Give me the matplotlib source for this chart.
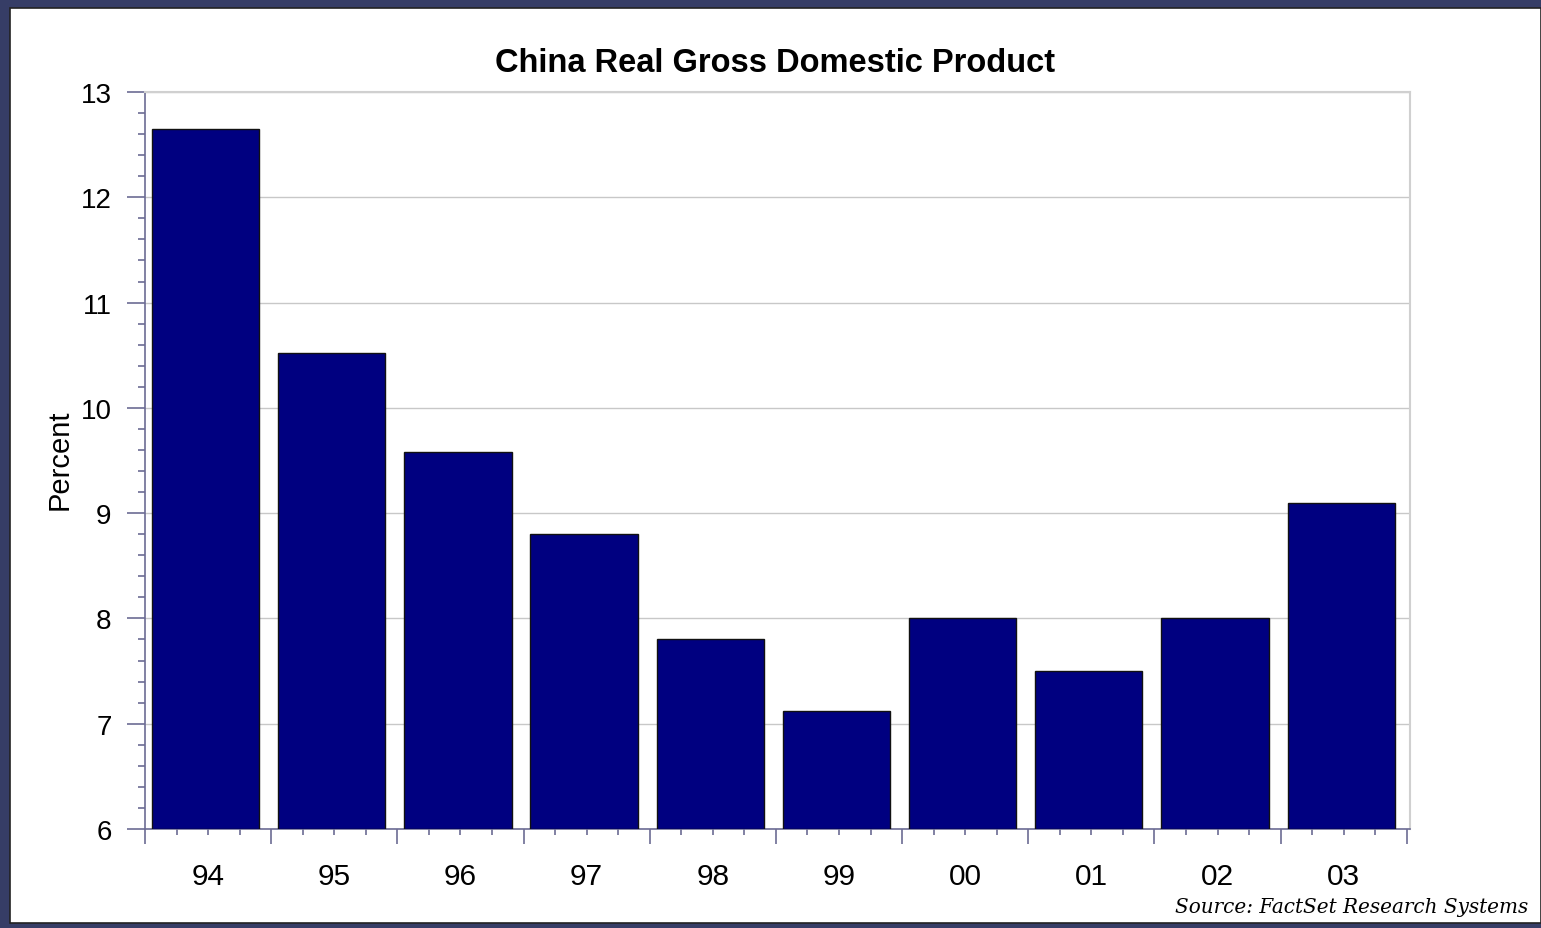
import numpy as np
import matplotlib
matplotlib.use("Agg")
import matplotlib.pyplot as plt
from matplotlib.patches import Rectangle

years = ["94", "95", "96", "97", "98", "99", "00", "01", "02", "03"]
gdp_growth = [12.65, 10.52, 9.58, 8.8, 7.8, 7.12, 8.0, 7.5, 8.0, 9.1]
y_ticks = [6, 7, 8, 9, 10, 11, 12, 13]

W, H = 1541, 929
axis_col = "#6c6c94"
frame_col = "#d0d0d0"

plt.rcParams["font.family"] = ["Liberation Sans", "DejaVu Sans"]

fig = plt.figure(figsize=(W / 100, H / 100), dpi=100)
fig.patch.set_facecolor("#363d66")
# white panel inside the dark border
fig.patches.append(Rectangle((10 / W, 1 - 924 / H), 1 - 10 / W, (924 - 9) / H,
                             transform=fig.transFigure, facecolor="white",
                             edgecolor="#222222", linewidth=1.2, zorder=-5))

ax = fig.add_axes([145 / W, 1 - 830 / H, (1410 - 145) / W, (830 - 93) / H])
ax.set_zorder(2)
ax.set_facecolor("white")
x = np.arange(len(years))
ax.bar(x - 0.02, np.array(gdp_growth) - 6, bottom=6, width=0.85, color="#000080",
       edgecolor="#111111", linewidth=1.0, zorder=3)

ax.set_xlim(-0.5, 9.525)
ax.set_ylim(6, 13)

# y axis
ax.set_yticks(y_ticks)
ax.set_yticks(np.arange(6, 13.01, 0.2), minor=True)
ax.tick_params(axis="y", which="major", length=13, width=1.2, color=axis_col,
               labelsize=20, pad=11)
ax.tick_params(axis="y", which="minor", length=5, width=1.2, color=axis_col)

# x axis: major ticks at category boundaries, labels on the middle minor tick
ax.set_xticks(np.arange(-0.5, 10, 1.0))
ax.set_xticklabels([])
minor_pos = []
minor_lab = []
for i, yr in enumerate(years):
    minor_pos += [i - 0.25, i, i + 0.25]
    minor_lab += ["", yr, ""]
ax.set_xticks(minor_pos, minor=True)
ax.set_xticklabels(minor_lab, minor=True)
ax.tick_params(axis="x", which="major", length=11, width=1.2, color=axis_col)
ax.tick_params(axis="x", which="minor", length=4, width=1.2, color=axis_col,
               labelsize=21.5, pad=20)

ax.grid(axis="y", color="#c8c8c8", linewidth=1.0, zorder=0)
ax.set_axisbelow(True)
for side in ["left", "bottom"]:
    ax.spines[side].set_color(axis_col)
    ax.spines[side].set_linewidth(1.2)
for side in ["top", "right"]:
    ax.spines[side].set_color(frame_col)
    ax.spines[side].set_linewidth(1.5)

fig.text(775 / W, 1 - 63 / H, "China Real Gross Domestic Product",
         ha="center", va="center", fontsize=23.5, fontweight="bold")
fig.text(60 / W, 1 - 460 / H, "Percent", rotation=90, ha="center",
         va="center", fontsize=21)
fig.text(1528 / W, 1 - 908 / H, "Source: FactSet Research Systems",
         ha="right", va="center", fontsize=14.4, fontstyle="italic",
         family="DejaVu Serif")

fig.savefig("out.png", dpi=100, facecolor=fig.get_facecolor())
